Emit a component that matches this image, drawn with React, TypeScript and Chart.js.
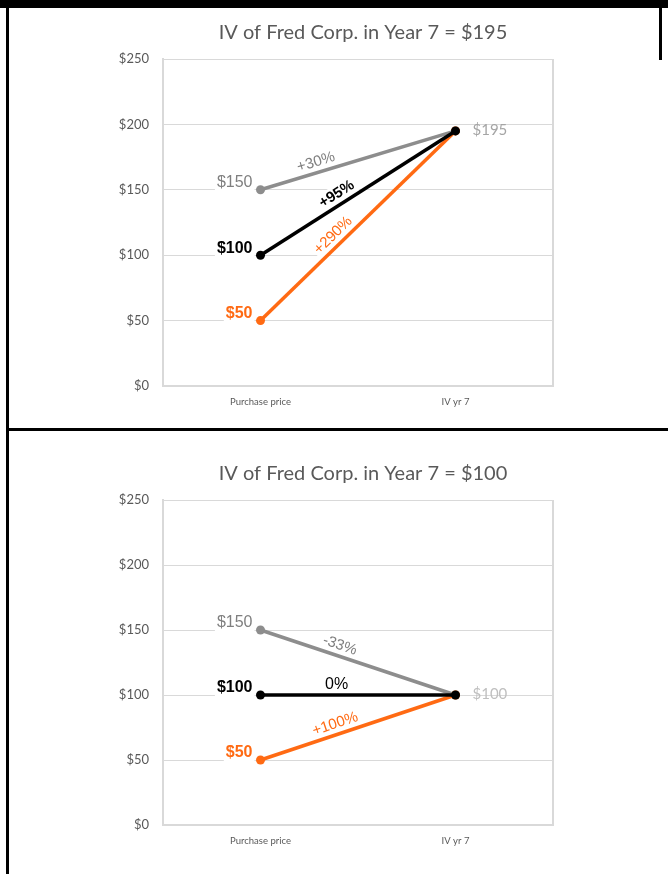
import React, { useEffect, useRef } from "react";
import { Chart, registerables } from "chart.js";

Chart.register(...registerables);

// ---------- data ----------
const categories = ["Purchase price", "IV yr 7"];
const yTickValues = [0, 50, 100, 150, 200, 250];

const topTitle = "IV of Fred Corp. in Year 7 = $195";
const topGray = [150, 195];
const topBlack = [100, 195];
const topOrange = [50, 195];
const topPct = ["+30%", "+95%", "+290%"]; // gray, black, orange

const botTitle = "IV of Fred Corp. in Year 7 = $100";
const botGray = [150, 100];
const botBlack = [100, 100];
const botOrange = [50, 100];
const botPct = ["-33%", "0%", "+100%"]; // gray, black, orange

// ---------- styles ----------
const GRAY = "#8d8d8d";
const GRAY_TEXT = "#7f7f7f";
const BLACK = "#000000";
const ORANGE = "#ff6a13";
const GRID = "#d9d9d9";
const AXIS_TEXT = "#595959";

type SeriesStyle = {
  color: string;
  textColor: string;
  valueFont: string;
};

const seriesStyles: Record<string, SeriesStyle> = {
  gray: { color: GRAY, textColor: GRAY_TEXT, valueFont: "16px 'Liberation Sans'" },
  black: { color: BLACK, textColor: BLACK, valueFont: "bold 16px 'Liberation Sans'" },
  orange: { color: ORANGE, textColor: ORANGE, valueFont: "bold 16px 'Liberation Sans'" },
};

type Panel = {
  title: string;
  gray: number[];
  black: number[];
  orange: number[];
  pct: string[];
  pctT: number[]; // fraction along segment (gray, black, orange)
  pctFont: string[];
  endColor: string;
  height: number;
  padTop: number;
  xHeight: number;
};

const panels: Panel[] = [
  {
    title: topTitle,
    gray: topGray,
    black: topBlack,
    orange: topOrange,
    pct: topPct,
    pctT: [0.3, 0.42, 0.41],
    pctFont: ["15px 'Liberation Sans'", "bold 15px 'Liberation Sans'", "15px 'Liberation Sans'"],
    endColor: "#a5a5a5",
    height: 428,
    padTop: 59,
    xHeight: 42,
  },
  {
    title: botTitle,
    gray: botGray,
    black: botBlack,
    orange: botOrange,
    pct: botPct,
    pctT: [0.39, 0.39, 0.4],
    pctFont: ["15px 'Liberation Sans'", "16px 'Liberation Sans'", "15px 'Liberation Sans'"],
    endColor: "#bfbfbf",
    height: 443,
    padTop: 69,
    xHeight: 49,
  },
];

type LabelItem = {
  text: string;
  x: number;
  y: number;
  angle: number;
  font: string;
  color: string;
  align: CanvasTextAlign;
  bg: boolean;
};

function collectLabels(chart: any): LabelItem[] {
  const opts = chart.options.plugins.slopeLabels;
  const items: LabelItem[] = [];
  let endDs = -1;
  chart.data.datasets.forEach((ds: any, i: number) => {
    const meta = chart.getDatasetMeta(i);
    const p0 = meta.data[0];
    const p1 = meta.data[1];
    const st: SeriesStyle = seriesStyles[ds.seriesKey];
    if (ds.seriesKey === "gray") endDs = i;
    items.push({
      text: "$" + ds.data[0],
      x: p0.x - 8,
      y: p0.y - 7,
      angle: 0,
      font: st.valueFont,
      color: st.textColor,
      align: "right",
      bg: true,
    });
    const dx = p1.x - p0.x;
    const dy = p1.y - p0.y;
    const ang = Math.atan2(dy, dx);
    const t = ds.pctT;
    const d = 10.5;
    items.push({
      text: ds.pctText,
      x: p0.x + t * dx + Math.sin(ang) * d,
      y: p0.y + t * dy - Math.cos(ang) * d,
      angle: ang,
      font: ds.pctFont,
      color: st.textColor,
      align: "center",
      bg: true,
    });
  });
  // end label (shared end value)
  const meta = chart.getDatasetMeta(endDs);
  const pe = meta.data[1];
  items.push({
    text: "$" + chart.data.datasets[endDs].data[1],
    x: pe.x + 17,
    y: pe.y - 1,
    angle: 0,
    font: "15px Lato",
    color: opts.endColor,
    align: "left",
    bg: false,
  });
  return items;
}

const slopeLabels = {
  id: "slopeLabels",
  beforeDatasetsDraw(chart: any) {
    const { ctx, chartArea: a } = chart;
    ctx.save();
    // plot area right border
    ctx.strokeStyle = GRID;
    ctx.lineWidth = 2;
    ctx.beginPath();
    ctx.moveTo(a.right, a.top);
    ctx.lineTo(a.right, a.bottom);
    ctx.stroke();
    // white boxes behind labels (hide gridlines)
    for (const it of collectLabels(chart)) {
      if (!it.bg) continue;
      ctx.save();
      ctx.font = it.font;
      const w = ctx.measureText(it.text).width;
      ctx.translate(it.x, it.y);
      ctx.rotate(it.angle);
      let x0 = -w / 2;
      if (it.align === "right") x0 = -w;
      if (it.align === "left") x0 = 0;
      ctx.fillStyle = "#ffffff";
      ctx.fillRect(x0 - 2, -9, w + 4, 18);
      ctx.restore();
    }
    ctx.restore();
  },
  afterDatasetsDraw(chart: any) {
    const { ctx, chartArea: a } = chart;
    const opts = chart.options.plugins.slopeLabels;
    ctx.save();
    for (const it of collectLabels(chart)) {
      ctx.save();
      ctx.font = it.font;
      ctx.fillStyle = it.color;
      ctx.textAlign = it.align;
      ctx.textBaseline = "middle";
      ctx.translate(it.x, it.y);
      ctx.rotate(it.angle);
      ctx.fillText(it.text, 0, 0);
      ctx.restore();
    }
    // title
    ctx.font = "20px Lato";
    ctx.fillStyle = AXIS_TEXT;
    ctx.textAlign = "center";
    ctx.textBaseline = "middle";
    ctx.fillText(opts.title, (a.left + a.right) / 2 + 5, a.top - 26);
    ctx.restore();
  },
};

function makeChart(canvas: HTMLCanvasElement, p: Panel) {
  const mk = (key: string, data: number[], idx: number) => {
    const st = seriesStyles[key];
    return {
      label: key,
      data,
      seriesKey: key,
      pctText: p.pct[idx],
      pctT: p.pctT[idx],
      pctFont: p.pctFont[idx],
      borderColor: st.color,
      backgroundColor: st.color,
      pointBackgroundColor: st.color,
      pointBorderColor: st.color,
      borderWidth: 3.5,
      pointRadius: 4.5,
      pointBorderWidth: 0,
      tension: 0,
    };
  };
  return new Chart(canvas, {
    type: "line",
    data: {
      labels: categories,
      // dataset 0 is drawn last (on top): black on top, gray beneath
      datasets: [mk("black", p.black, 1), mk("orange", p.orange, 2), mk("gray", p.gray, 0)] as any,
    },
    options: {
      animation: false,
      responsive: false,
      devicePixelRatio: 1,
      layout: { padding: { top: p.padTop, right: 115, left: 0, bottom: 0 } },
      plugins: {
        legend: { display: false },
        title: { display: false },
        tooltip: { enabled: false },
        slopeLabels: { title: p.title, endColor: p.endColor },
      } as any,
      scales: {
        x: {
          type: "category",
          offset: true,
          grid: { display: false, drawTicks: false },
          border: { display: true, color: GRID, width: 2 },
          ticks: { color: AXIS_TEXT, font: { family: "Lato", size: 9.5 }, padding: 10 },
          afterFit: (s: any) => {
            s.height = p.xHeight;
          },
        },
        y: {
          min: 0,
          max: 250,
          afterBuildTicks: (s: any) => {
            s.ticks = yTickValues.map((v) => ({ value: v }));
          },
          grid: { color: GRID, lineWidth: 1, drawTicks: false },
          border: { display: true, color: GRID, width: 2 },
          ticks: {
            color: AXIS_TEXT,
            font: { family: "Lato", size: 13 },
            padding: 14,
            callback: (v: any) => "$" + v,
          },
          afterFit: (s: any) => {
            s.width = 163;
          },
        },
      },
    } as any,
    plugins: [slopeLabels],
  });
}

export default function App() {
  const topRef = useRef<HTMLCanvasElement>(null);
  const botRef = useRef<HTMLCanvasElement>(null);

  useEffect(() => {
    const c1 = makeChart(topRef.current!, panels[0]);
    const c2 = makeChart(botRef.current!, panels[1]);
    return () => {
      c1.destroy();
      c2.destroy();
    };
  }, []);

  const black = "#000";
  return (
    <div
      style={{
        position: "absolute",
        left: 0,
        top: 0,
        width: 668,
        height: 874,
        background: "#fff",
        overflow: "hidden",
      }}
    >
      <canvas
        ref={topRef}
        width={668}
        height={panels[0].height}
        style={{ position: "absolute", left: 0, top: 0, display: "block" }}
      />
      <canvas
        ref={botRef}
        width={668}
        height={panels[1].height}
        style={{ position: "absolute", left: 0, top: 431, display: "block" }}
      />
      <div style={{ position: "absolute", left: 0, top: 0, width: 668, height: 8, background: black }} />
      <div style={{ position: "absolute", left: 6, top: 0, width: 3, height: 874, background: black }} />
      <div style={{ position: "absolute", left: 6, top: 428, width: 662, height: 3, background: black }} />
      <div style={{ position: "absolute", left: 659, top: 0, width: 3, height: 60, background: black }} />
    </div>
  );
}
